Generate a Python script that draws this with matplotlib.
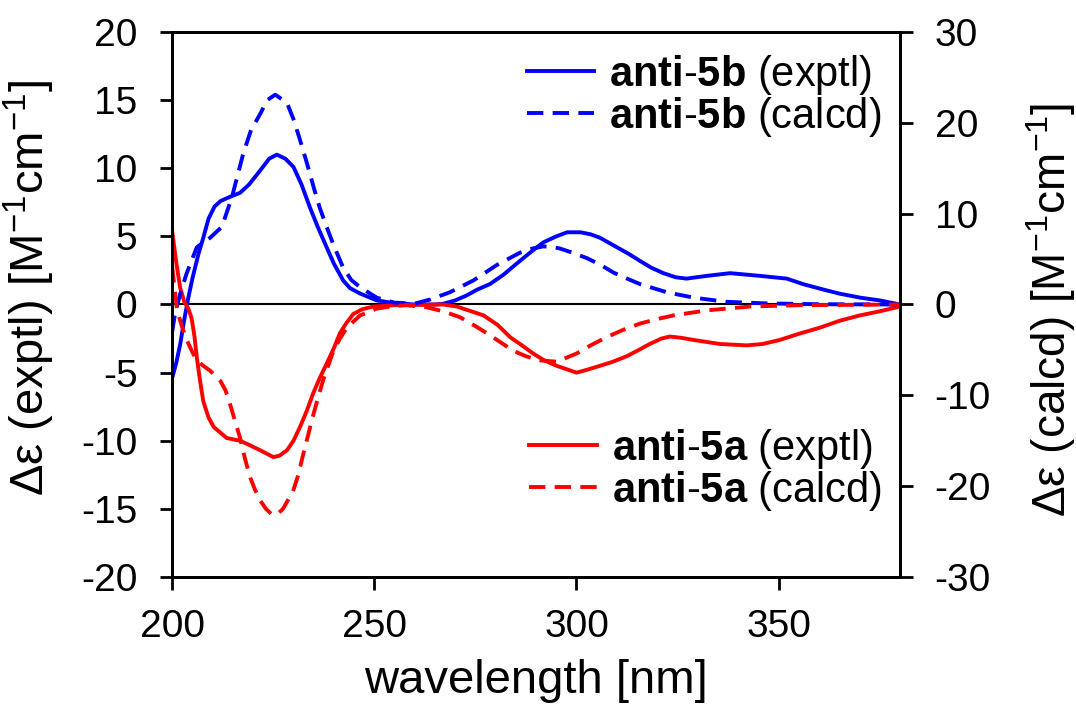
import numpy as np
import matplotlib
matplotlib.use('Agg')
import matplotlib.pyplot as plt

plt.rcParams['font.family'] = ['Liberation Sans', 'DejaVu Sans']
plt.rcParams['mathtext.fontset'] = 'custom'
plt.rcParams['mathtext.rm'] = 'Liberation Sans'
plt.rcParams['mathtext.it'] = 'Liberation Sans:italic'
plt.rcParams['mathtext.bf'] = 'Liberation Sans:bold'
plt.rcParams['axes.unicode_minus'] = False

# anti-5b, experimental (left axis)
wl_5b_exp = [200, 201, 202, 203, 204, 205, 206.5, 207.7, 209, 210.5, 212, 214.3,
             216.8, 219, 221.8, 224, 225.9, 228, 230, 232, 234.1, 236, 238.2, 240,
             242.3, 244, 246.5, 250.6, 255, 260, 265, 267, 270, 272.8, 275.5, 278.6,
             282, 285.2, 288.5, 291.8, 295, 297.7, 301, 303.5, 305.8, 310, 313, 315.7,
             318.5, 321.5, 324.5, 327.2, 332.2, 338, 345.4, 352, 356, 361, 365, 370.2,
             375, 380]
de_5b_exp = [-5.4, -4.3, -2.9, -1.1, 0.5, 1.9, 3.7, 4.9, 6.3, 7.2, 7.6, 7.9,
             8.2, 8.8, 9.85, 10.7, 11.0, 10.7, 10.1, 8.8, 7.1, 5.7, 4.2, 3.0,
             1.76, 1.2, 0.8, 0.3, 0.1, 0.0, 0.0, 0.05, 0.3, 0.66, 1.1, 1.5,
             2.2, 3.0, 3.8, 4.56, 5.0, 5.3, 5.3, 5.15, 4.9, 4.2, 3.7, 3.2,
             2.7, 2.3, 2.0, 1.9, 2.1, 2.3, 2.1, 1.9, 1.5, 1.1, 0.8, 0.5,
             0.3, 0.0]

# anti-5a, experimental (left axis)
wl_5a_exp = [200, 201, 202, 203, 204, 204.8, 205.5, 206.1, 206.9, 207.7, 209, 210.3,
             213.5, 216.8, 219, 221.8, 225, 226.5, 228.4, 230, 231.6, 233.3, 234.9,
             236.5, 238.2, 240, 241.5, 243, 244.8, 247, 249.8, 255, 267, 270.4, 273.5,
             277, 280.5, 283.6, 286.5, 289.3, 292, 295.1, 300, 302.5, 305.8, 309,
             312.4, 315, 318.1, 321, 323.1, 326, 328.9, 335.5, 342.1, 346, 350.3,
             355, 360.2, 365, 370.1, 375, 380]
de_5a_exp = [5.4, 3.1, 1.2, 0.2, -0.3, -1.0, -2.3, -3.9, -5.6, -7.1, -8.3, -9.0,
             -9.8, -10.0, -10.3, -10.7, -11.2, -11.1, -10.7, -10.0, -9.0, -7.8, -6.5,
             -5.4, -4.35, -3.2, -2.1, -1.4, -0.7, -0.35, -0.15, -0.05, 0.0, -0.15, -0.45,
             -0.8, -1.5, -2.4, -3.0, -3.6, -4.1, -4.5, -5.0, -4.8, -4.5, -4.2,
             -3.8, -3.4, -2.9, -2.5, -2.35, -2.45, -2.6, -2.9, -3.0, -2.9, -2.6,
             -2.15, -1.7, -1.2, -0.8, -0.5, -0.15]

# anti-5b, calculated (right axis)
wl_5b_calc = [200, 200.7, 202, 203.6, 206.1, 209.4, 212.3, 214.8, 217.6, 219.5,
              221.8, 223.5, 225.5, 228.4, 230, 231.6, 233.3, 235, 236.5, 238.2, 240,
              242.3, 244.3, 246.5, 250.6, 255, 260, 263.8, 268.7, 274.5, 280.3, 286,
              289, 291.8, 294, 296, 299, 302.6, 306, 309.2, 312.5, 315.7, 319, 322.3,
              329, 337, 347, 360, 380]
de_5b_calc = [-3.0, -1.05, 1.2, 3.45, 6.3, 7.35, 8.55, 11.85, 16.65, 19.2,
              21.0, 22.5, 23.1, 22.2, 20.4, 18.15, 15.6, 12.9, 10.65, 8.55, 6.45,
              4.05, 2.7, 1.9, 0.75, 0.2, 0.1, 0.55, 1.35, 2.65, 4.35, 5.7,
              6.15, 6.4, 6.35, 6.15, 5.7, 5.1, 4.35, 3.5, 2.85, 2.25, 1.8, 1.35,
              0.75, 0.3, 0.12, 0.03, 0.0]

# anti-5a, calculated (right axis)
wl_5a_calc = [200, 201.2, 202.4, 203.6, 205, 206.1, 207.7, 209.4, 211.9, 213.2,
              214.3, 215.5, 216.8, 218, 219.3, 220.5, 221.8, 223.2, 224.6, 226, 227.4,
              229.9, 231.2, 232.4, 233.7, 235, 236.2, 237.5, 239.9, 241.5, 243.2, 246.5,
              250.6, 255, 258, 262.9, 267, 271.2, 274.5, 277.8, 281, 284.4, 287.5, 291,
              295.1, 300, 303.5, 307.4, 311.5, 315.7, 320, 324, 332.2, 343, 355, 380]
de_5a_calc = [4.2, -0.6, -2.4, -3.9, -5.25, -6.15, -6.75, -7.3, -8.4, -9.45,
              -10.95, -12.75, -14.7, -16.95, -19.05, -20.4, -21.6, -22.5, -23.1, -23.1, -22.5,
              -20.55, -18.75, -16.5, -14.25, -12.0, -10.05, -8.1, -5.1, -3.75, -2.55, -1.2,
              -0.45, -0.15, -0.08, -0.3, -0.75, -1.4, -2.25, -3.15, -4.1, -5.1, -5.7, -6.15,
              -6.3, -5.4, -4.5, -3.6, -2.8, -2.1, -1.6, -1.2, -0.65, -0.22, -0.08, 0.0]

blue = '#0000ff'
red = '#ff0000'
lw = 2.8
dash = (4.2, 2.4)

fig = plt.figure(figsize=(10.76, 7.19), dpi=100)
ax = fig.add_axes([0.16, 0.1975, 0.6764, 0.758])
ax2 = ax.twinx()

ax.axhline(0, color='black', lw=1.5, zorder=1)
l1, = ax.plot(wl_5b_exp, de_5b_exp, color=blue, lw=lw)
l3, = ax.plot(wl_5a_exp, de_5a_exp, color=red, lw=lw)
l2, = ax2.plot(wl_5b_calc, de_5b_calc, color=blue, lw=lw, dashes=dash)
l4, = ax2.plot(wl_5a_calc, de_5a_calc, color=red, lw=lw, dashes=dash)

ax.set_xlim(200, 380)
ax.set_ylim(-20, 20)
ax2.set_ylim(-30, 30)
ax.set_xticks([200, 250, 300, 350])
ax.set_yticks(np.arange(-20, 21, 5))
ax2.set_yticks(np.arange(-30, 31, 10))

for a in (ax, ax2):
    for s in a.spines.values():
        s.set_linewidth(2.0)
    a.tick_params(labelsize=28, width=2.0, length=9, direction='out')
ax.tick_params(axis='y', pad=16)
ax.tick_params(axis='x', pad=14)
ax2.tick_params(axis='y', pad=16)

ax.set_xlabel('wavelength [nm]', fontsize=34, labelpad=10)
ax.set_ylabel(r'Δε (exptl) [M$^{-1}$cm$^{-1}$]', fontsize=34)
ax2.set_ylabel(r'Δε (calcd) [M$^{-1}$cm$^{-1}$]', fontsize=33, rotation=90)
ax.yaxis.set_label_coords(-0.158, 0.53)
ax2.yaxis.set_label_coords(1.17, 0.49)

leg_kw = dict(frameon=False, fontsize=30, handlelength=1.62, handletextpad=0.36,
              labelspacing=-0.05, borderaxespad=0.0, borderpad=0.3)
leg1 = ax2.legend([l1, l2], [r'$\bf{anti}$-$\bf{5b}$ (exptl)', r'$\bf{anti}$-$\bf{5b}$ (calcd)'],
                  loc='upper right', bbox_to_anchor=(0.992, 0.985), **leg_kw)
ax2.add_artist(leg1)
ax2.legend([l3, l4], [r'$\bf{anti}$-$\bf{5a}$ (exptl)', r'$\bf{anti}$-$\bf{5a}$ (calcd)'],
           loc='lower right', bbox_to_anchor=(0.992, 0.095), **leg_kw)

fig.savefig('out.png', dpi=100)
